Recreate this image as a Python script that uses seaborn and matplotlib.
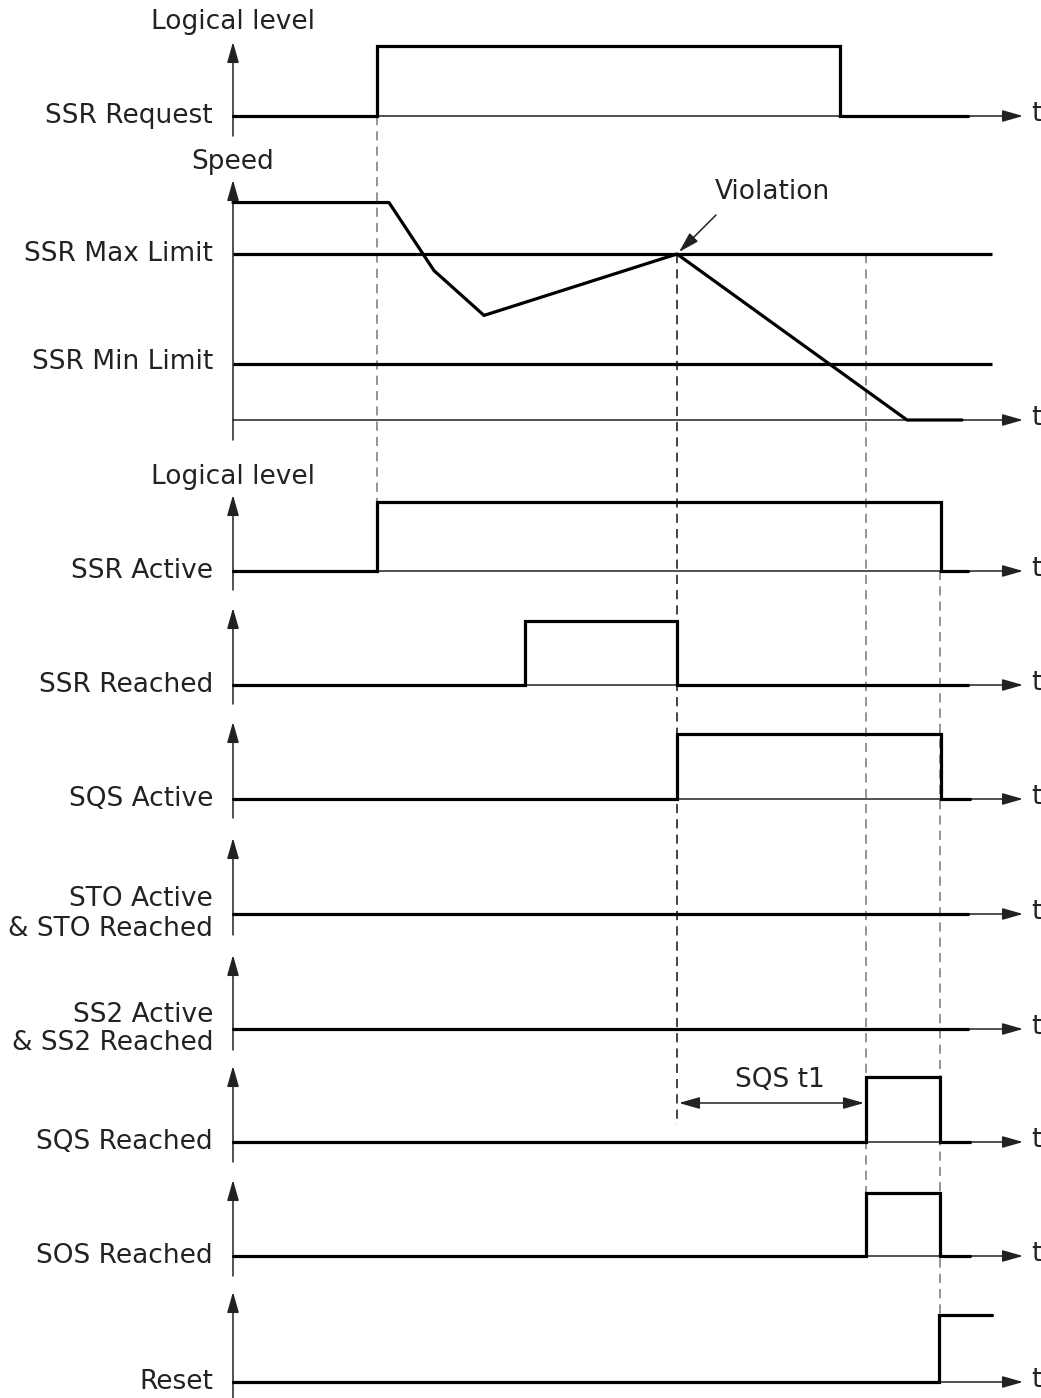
import numpy as np
import pandas as pd
import matplotlib
matplotlib.use("Agg")
import matplotlib.pyplot as plt
import seaborn as sns

sns.set_theme(style="white")
plt.rcParams['font.family'] = ['DejaVu Sans']

# ---------------- data (time units, t=0 at the vertical axis) ----------------
ssr_request_t = [0, 144, 607, 735]
ssr_request_v = [0, 1, 0, 0]

speed_t = [0, 156, 201, 251, 444, 674, 729]
speed_v = [131, 131, 90, 63, 100, 0, 0]
ssr_max_limit = 100
ssr_min_limit = 34
limit_end_t = 759

ssr_active_t = [0, 144, 708, 735]
ssr_active_v = [0, 1, 0, 0]

ssr_reached_t = [0, 292, 444, 735]
ssr_reached_v = [0, 1, 0, 0]

sqs_active_t = [0, 444, 708, 737]
sqs_active_v = [0, 1, 0, 0]

sto_t = [0, 735]
sto_v = [0, 0]

ss2_t = [0, 735]
ss2_v = [0, 0]

sqs_reached_t = [0, 633, 707, 737]
sqs_reached_v = [0, 1, 0, 0]

sos_reached_t = [0, 633, 707, 737]
sos_reached_v = [0, 1, 0, 0]

reset_t = [0, 706, 759]
reset_v = [0, 1, 1]

t_axis_end = 790
sqs_t1_start, sqs_t1_end = 444, 633

logic_labels = ["SSR Request", "SSR Active", "SSR Reached", "SQS Active",
                "STO Active\n& STO Reached", "SS2 Active\n& SS2 Reached",
                "SQS Reached", "SOS Reached", "Reset"]
logic_series = [(ssr_request_t, ssr_request_v), (ssr_active_t, ssr_active_v),
                (ssr_reached_t, ssr_reached_v), (sqs_active_t, sqs_active_v),
                (sto_t, sto_v), (ss2_t, ss2_v),
                (sqs_reached_t, sqs_reached_v), (sos_reached_t, sos_reached_v),
                (reset_t, reset_v)]

# ---------------- layout (pixels) ----------------
W, H = 1041, 1398
X0 = 233
baselines = [116, 571, 685, 799, 914, 1029, 1142, 1256, 1382]
highs = [46, 502, 621, 734, 846, 961, 1077, 1193, 1315]
tips = [42, 495, 608, 722, 838, 955, 1066, 1180, 1292]
bottoms = [136, 590, 704, 818, 935, 1050, 1162, 1276, 1398]
speed_base, speed_px_per_unit, speed_tip, speed_bottom = 420, 1.66, 180, 440

FS = 19
TXT = '#222222'
SIG_LW = 2.3
THIN = '#222222'

fig = plt.figure(figsize=(W / 100, H / 100), dpi=100)
ov = fig.add_axes([0, 0, 1, 1])
ov.set_xlim(0, W)
ov.set_ylim(H, 0)
ov.axis('off')

xlim = (-X0, W - X0)


def row_axes(top_px, bot_px, y_bottom, y_top):
    ax = fig.add_axes([0, 1 - bot_px / H, 1, (bot_px - top_px) / H])
    ax.set_xlim(*xlim)
    ax.set_ylim(y_bottom, y_top)
    ax.axis('off')
    ax.patch.set_visible(False)
    return ax


def axis_arrows(base, tip, bottom):
    ov.annotate("", xy=(X0, tip), xytext=(X0, bottom),
                arrowprops=dict(arrowstyle='-|>,head_length=0.7,head_width=0.2',
                                mutation_scale=18, lw=1.1, color=THIN,
                                shrinkA=0, shrinkB=0))
    ov.annotate("", xy=(X0 + t_axis_end, base), xytext=(X0, base),
                arrowprops=dict(arrowstyle='-|>,head_length=0.7,head_width=0.2',
                                mutation_scale=18, lw=1.1, color=THIN,
                                shrinkA=0, shrinkB=0))
    ov.text(1036, base - 2, "t", fontsize=FS, color=TXT, ha='center', va='center')


# dashed guide lines
dash = dict(lw=1.1, linestyle=(0, (6, 4)))
ov.plot([X0 + 144, X0 + 144], [116, 571], color='#777777', **dash)
ov.plot([X0 + 444, X0 + 444], [254, 1125], color='#111111', **dash)
ov.plot([X0 + 633, X0 + 633], [254, 1256], color='#777777', **dash)
ov.plot([X0 + 707, X0 + 707], [571, 1382], color='#777777', **dash)

# logic rows
for lab, (tt, vv), b, hi, tp, bt in zip(logic_labels, logic_series, baselines, highs, tips, bottoms):
    axis_arrows(b, tp, bt)
    h = b - hi
    top_px, bot_px = tp - 10, bt + 10
    ax = row_axes(top_px, bot_px, -(bot_px - b) / h, (b - top_px) / h)
    df = pd.DataFrame({"t": tt, "v": vv})
    sns.lineplot(data=df, x="t", y="v", ax=ax, drawstyle='steps-post', color='black',
                 lw=SIG_LW, estimator=None, sort=False, legend=False)
    for ln in ax.lines:
        ln.set_clip_on(False)
        ln.set_solid_joinstyle('miter')
    ov.text(213, b, lab, fontsize=FS, color=TXT, ha='right', va='center',
            multialignment='right', linespacing=1.15)

ov.text(X0, 22, "Logical level", fontsize=FS, color=TXT, ha='center', va='center')
ov.text(X0, 477, "Logical level", fontsize=FS, color=TXT, ha='center', va='center')

# speed row
axis_arrows(speed_base, speed_tip, speed_bottom)
top_px, bot_px = speed_tip - 10, speed_bottom + 10
axs = row_axes(top_px, bot_px, -(bot_px - speed_base) / speed_px_per_unit,
               (speed_base - top_px) / speed_px_per_unit)
axs.hlines([ssr_max_limit, ssr_min_limit], 0, limit_end_t, color='black', lw=SIG_LW)
sdf = pd.DataFrame({"t": speed_t, "v": speed_v})
sns.lineplot(data=sdf, x="t", y="v", ax=axs, color='black', lw=SIG_LW,
             estimator=None, sort=False, legend=False)
for ln in axs.lines:
    ln.set_clip_on(False)
ov.text(X0, 162, "Speed", fontsize=FS, color=TXT, ha='center', va='center')
ov.text(213, 254, "SSR Max Limit", fontsize=FS, color=TXT, ha='right', va='center')
ov.text(213, 362, "SSR Min Limit", fontsize=FS, color=TXT, ha='right', va='center')

# violation annotation
axs.annotate("", xy=(speed_t[4], speed_v[4]), xytext=(716 - X0, (speed_base - 215) / speed_px_per_unit),
             arrowprops=dict(arrowstyle='-|>,head_length=0.7,head_width=0.2', mutation_scale=18,
                             lw=1.1, color=THIN, shrinkA=0, shrinkB=2))
ov.text(772, 192, "Violation", fontsize=FS, color=TXT, ha='center', va='center')

# SQS t1 annotation
ov.annotate("", xy=(X0 + sqs_t1_end - 2, 1103), xytext=(X0 + sqs_t1_start + 2, 1103),
            arrowprops=dict(arrowstyle='<|-|>,head_length=0.7,head_width=0.2', mutation_scale=18,
                            lw=1.1, color=THIN, shrinkA=0, shrinkB=0))
ov.text(780, 1080, "SQS t1", fontsize=FS, color=TXT, ha='center', va='center')

fig.savefig("out.png", dpi=100, facecolor='white')
